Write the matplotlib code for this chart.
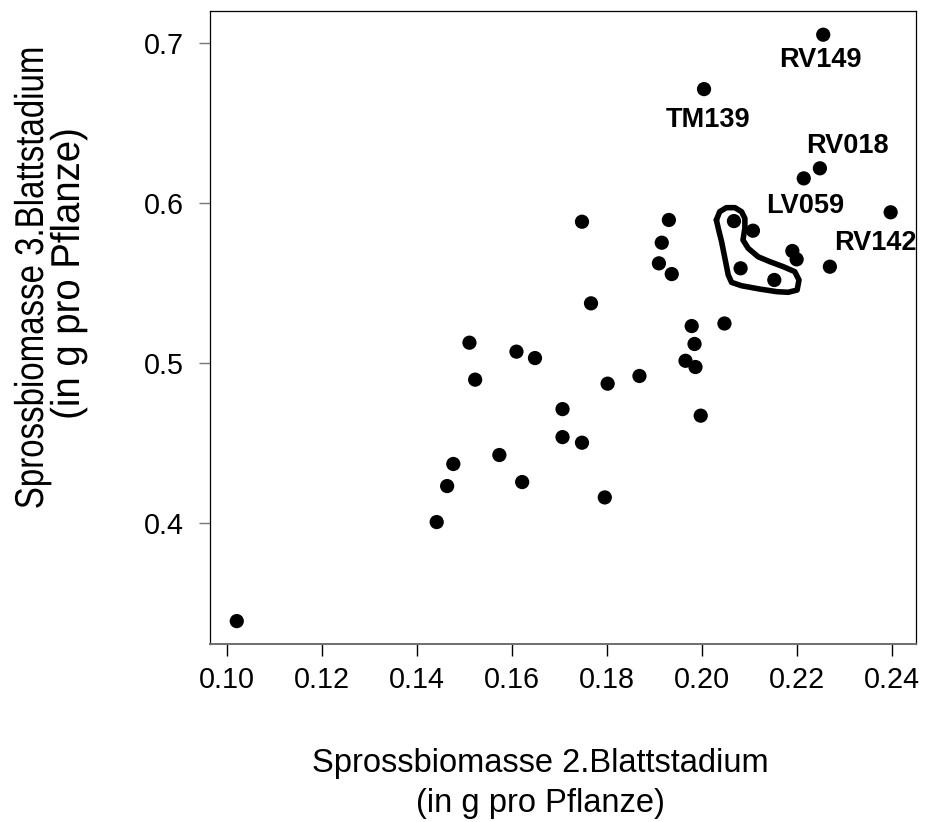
import matplotlib
matplotlib.use("Agg")
import matplotlib.pyplot as plt
from matplotlib import font_manager
from matplotlib.patheffects import AbstractPathEffect
from matplotlib.transforms import Affine2D

# ---------------- data ----------------
x_vals = [0.2255, 0.2004, 0.2248, 0.2214, 0.2397, 0.1747, 0.1930, 0.2067,
          0.1915, 0.2107, 0.1909, 0.1936, 0.2190, 0.2199, 0.2081, 0.2152,
          0.2269, 0.1766, 0.2047, 0.1978, 0.1984, 0.1965, 0.1986, 0.1510,
          0.1609, 0.1648, 0.1522, 0.1801, 0.1868, 0.1706, 0.1997, 0.1706,
          0.1747, 0.1573, 0.1476, 0.1463, 0.1621, 0.1795, 0.1441, 0.1020]
y_vals = [0.7054, 0.6714, 0.6219, 0.6156, 0.5944, 0.5885, 0.5896, 0.5889,
          0.5754, 0.5829, 0.5625, 0.5558, 0.5702, 0.5650, 0.5594, 0.5521,
          0.5604, 0.5375, 0.5249, 0.5233, 0.5121, 0.5016, 0.4977, 0.5129,
          0.5073, 0.5033, 0.4898, 0.4873, 0.4921, 0.4714, 0.4673, 0.4539,
          0.4504, 0.4427, 0.4371, 0.4233, 0.4258, 0.4162, 0.4008, 0.3389]

label_texts = ["RV149", "TM139", "RV018", "LV059", "RV142"]
label_x = [0.2250, 0.2012, 0.2307, 0.2218, 0.2364]
label_y = [0.6854, 0.6477, 0.6316, 0.5939, 0.5708]

# hand-drawn outline around a group of genotypes (data coordinates)
outline_x = [0.2030, 0.2037, 0.2051, 0.2069, 0.2083, 0.2090, 0.2090, 0.2086,
             0.2097, 0.2118, 0.2143, 0.2171, 0.2195, 0.2204, 0.2200, 0.2181,
             0.2157, 0.2122, 0.2083, 0.2062, 0.2055, 0.2048, 0.2041, 0.2034,
             0.2030]
outline_y = [0.5896, 0.5948, 0.5973, 0.5973, 0.5948, 0.5906, 0.5844, 0.5771,
             0.5719, 0.5666, 0.5635, 0.5604, 0.5573, 0.5521, 0.5458, 0.5444,
             0.5448, 0.5464, 0.5485, 0.5506, 0.5552, 0.5656, 0.5760, 0.5844,
             0.5896]

x_ticks = [0.10, 0.12, 0.14, 0.16, 0.18, 0.20, 0.22, 0.24]
y_ticks = [0.4, 0.5, 0.6, 0.7]
x_tick_labels = ["0.10", "0.12", "0.14", "0.16", "0.18", "0.20", "0.22", "0.24"]
y_tick_labels = ["0.4", "0.5", "0.6", "0.7"]

xlabel_lines = ["Sprossbiomasse 2.Blattstadium", "(in g pro Pflanze)"]
ylabel_lines = ["Sprossbiomasse 3.Blattstadium", "(in g pro Pflanze)"]

# ---------------- style ----------------
W, H, DPI = 925, 822, 100
FONT = "Liberation Sans"
plt.rcParams["font.family"] = [FONT, "DejaVu Sans"]

names = {f.name for f in font_manager.fontManager.ttflist}
NARROW = "Liberation Sans Narrow" if "Liberation Sans Narrow" in names else None


class Squeeze(AbstractPathEffect):
    """Scale the drawn glyph outlines about a fixed display point."""
    def __init__(self, sx, sy, center):
        super().__init__((0, 0))
        self.sx, self.sy, self.c = sx, sy, center

    def draw_path(self, renderer, gc, tpath, affine, rgbFace=None):
        cx, cy = self.c
        t = affine + Affine2D().translate(-cx, -cy).scale(self.sx, self.sy).translate(cx, cy)
        renderer.draw_path(gc, tpath, t, rgbFace)


fig = plt.figure(figsize=(W / DPI, H / DPI), dpi=DPI)
fig.patch.set_facecolor("white")
ax = fig.add_axes([209.7 / W, 1 - 644.3 / H, (916.3 - 209.7) / W, (644.3 - 10.7) / H])

ax.scatter(x_vals, y_vals, s=105, c="black", edgecolors="none", zorder=3)
ax.plot(outline_x, outline_y, color="black", lw=4.0, solid_joinstyle="round",
        solid_capstyle="round", zorder=4)

for t, lx, ly in zip(label_texts, label_x, label_y):
    ax.text(lx, ly, t, ha="center", va="baseline", fontsize=19.5,
            fontweight="bold", color="black", zorder=5)

ax.set_xlim(0.0963, 0.2451)
ax.set_ylim(0.3244, 0.7204)
ax.set_xticks(x_ticks)
ax.set_xticklabels(x_tick_labels)
ax.set_yticks(y_ticks)
ax.set_yticklabels(y_tick_labels)

ax.tick_params(axis="x", length=8.6, width=1.0, color="black", pad=7,
               labelsize=20.7, labelcolor="black")
ax.tick_params(axis="y", length=8.0, width=1.0, color="#777777", pad=10.5,
               labelsize=20.7, labelcolor="black")

for side in ["top", "left", "right"]:
    ax.spines[side].set_color("black")
    ax.spines[side].set_linewidth(0.9)
ax.spines["bottom"].set_color("#6e6e6e")
ax.spines["bottom"].set_linewidth(1.4)

# x-axis title (two lines)
fig.text(540 / W, 1 - 771.5 / H, xlabel_lines[0], ha="center", va="baseline",
         fontsize=23.5, color="black")
fig.text(540 / W, 1 - 812 / H, xlabel_lines[1], ha="center", va="baseline",
         fontsize=23.5, color="black")

# y-axis title (two lines, narrow face); baseline x and centre y in pixels
ylab_specs = [(43.0, 277.5, 1.0), (79.0, 274.0, 1.16)]
for line, (bx, cy, stretch) in zip(ylabel_lines, ylab_specs):
    fx, fy = bx / W, 1 - cy / H
    if NARROW:
        fam = [NARROW, "DejaVu Sans"]
        sy = stretch
    else:
        fam = [FONT, "DejaVu Sans"]
        sy = 0.82 * stretch
    kw = {}
    if abs(sy - 1.0) > 1e-3:
        kw["path_effects"] = [Squeeze(1.0, sy, (bx, H - cy))]
    fig.text(fx, fy, line, rotation=90, rotation_mode="anchor",
             ha="center", va="baseline", fontsize=29, family=fam,
             color="black", **kw)

fig.savefig("out.png", dpi=DPI, facecolor="white")
